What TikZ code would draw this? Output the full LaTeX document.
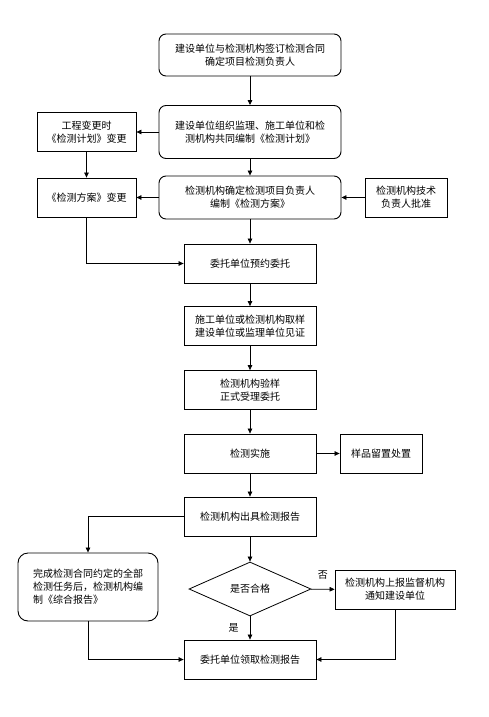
\documentclass[tikz,border=0pt]{standalone}
\usepackage{fontspec}
\newfontfamily\cjk{Noto Sans CJK SC}
\usetikzlibrary{arrows.meta, shapes.geometric, positioning}

\begin{document}
\begin{tikzpicture}[
    x=1pt, y=-1pt,
    every node/.style={font=\cjk\fontsize{10}{13}\selectfont, align=center, inner sep=2pt},
    roundbox/.style={draw, line width=0.9pt, rounded corners=7pt, minimum width=182pt},
    mainbox/.style={draw, line width=0.8pt, minimum width=132pt, minimum height=39pt},
    sidebox/.style={draw, line width=0.8pt, minimum height=39pt},
    decision/.style={draw, line width=0.8pt, diamond, aspect=2.26, minimum width=122pt, minimum height=54pt, inner sep=0pt},
    arrowstyle/.style={-{Triangle[length=5pt, width=4.5pt]}, line width=0.7pt}
]

\def\cx{250}   % 主线中心
\def\lx{86.5}  % 左侧列中心

\useasboundingbox (0,0) rectangle (489,717);

% 上部圆角框
\node[roundbox, minimum height=42pt] (sign) at (\cx,55) {建设单位与检测机构签订检测合同\\确定项目检测负责人};
\node[roundbox, minimum height=53pt] (plan) at (\cx,132) {建设单位组织监理、施工单位和检\\测机构共同编制《检测计划》};
\node[roundbox, minimum height=43pt] (scheme) at (\cx,197.5) {检测机构确定检测项目负责人\\编制《检测方案》};

% 左右两侧
\node[sidebox, minimum width=99pt] (planchg) at (\lx,132) {工程变更时\\《检测计划》变更};
\node[sidebox, minimum width=99pt] (schemechg) at (\lx,197.5) {《检测方案》变更};
\node[sidebox, minimum width=82pt] (approve) at (406,197.5) {检测机构技术\\负责人批准};

% 主流程
\node[mainbox] (book) at (\cx,263.5) {委托单位预约委托};
\node[mainbox] (sample) at (\cx,326) {施工单位或检测机构取样\\建设单位或监理单位见证};
\node[mainbox] (accept) at (\cx,390) {检测机构验样\\正式受理委托};
\node[mainbox] (test) at (\cx,453.5) {检测实施};
\node[sidebox, minimum width=82pt] (keep) at (381,453.5) {样品留置处置};
\node[mainbox] (report) at (\cx,516.5) {检测机构出具检测报告};
\node[decision] (pass) at (\cx,589) {是否合格};
\node[sidebox, minimum width=120pt] (notify) at (395,589.5) {检测机构上报监督机构\\通知建设单位};
\node[roundbox, minimum width=140pt, minimum height=68pt, rounded corners=10pt, align=left] (summary) at (88,587) {完成检测合同约定的全部\\检测任务后，检测机构编\\制《综合报告》};
\node[mainbox] (fetch) at (\cx,659.5) {委托单位领取检测报告};

% 连线
\draw[arrowstyle] (sign) -- (plan);
\draw[arrowstyle] (plan) -- (scheme);
\draw[arrowstyle] (scheme.south) -- (book.north);
\draw[arrowstyle] (book) -- (sample);
\draw[arrowstyle] (sample) -- (accept);
\draw[arrowstyle] (accept) -- (test);
\draw[arrowstyle] (test) -- (report);
\draw[arrowstyle] (test) -- (keep);
\draw[arrowstyle] (report) -- (pass);
\draw[arrowstyle] (pass) -- (fetch)
    node[midway, left=9pt] {是};
\draw[arrowstyle] (pass) -- (notify)
    node[midway, above=8pt] {否};

\draw[arrowstyle] (plan) -- (planchg);
\draw[arrowstyle] (planchg) -- (schemechg);
\draw[arrowstyle] (scheme) -- (schemechg);
\draw[arrowstyle] (approve) -- (scheme);
\draw[arrowstyle] (schemechg.south) |- (book.west);

\draw[arrowstyle] (report.west) -| (summary.north);
\draw[arrowstyle] (summary.south) |- (fetch.west);
\draw[arrowstyle] (notify.south) |- (fetch.east);

\end{tikzpicture}
\end{document}
